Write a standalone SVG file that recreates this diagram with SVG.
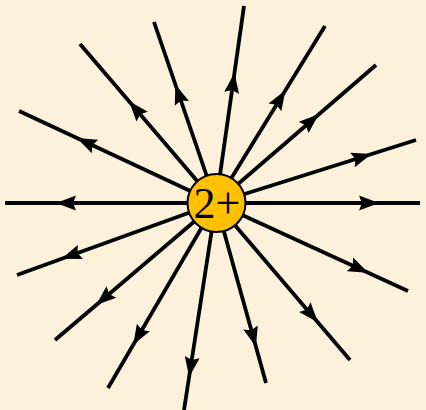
<svg xmlns="http://www.w3.org/2000/svg" width="426" height="410" viewBox="0 0 426 410">
<style>
.fl{fill:none;stroke:#000;stroke-width:3.8;marker-mid:url(#ah)}
.lbl{font-family:"Liberation Serif","Times New Roman",serif;font-size:44px;fill:#000}
</style>
<defs>
<marker id="ah" markerUnits="userSpaceOnUse" viewBox="-12 -9 24 18" refX="0" refY="0" markerWidth="24" markerHeight="18" orient="auto">
<path d="M9,0 L-11,-7.5 L-8,0 L-11,7.5 Z" fill="#000"/>
</marker>
</defs>
<rect width="426" height="410" fill="#FCF2DC"/>
<g id="connectors">
<path class="fl" d="M216,203 L65,203 L5,203"/>
<path class="fl" d="M216,203 L85,141.8 L19,111"/>
<path class="fl" d="M216,203 L135,108.2 L80,44"/>
<path class="fl" d="M216,203 L178.3,93 L154,22"/>
<path class="fl" d="M216,203 L233.2,82 L244,6"/>
<path class="fl" d="M216,203 L280.7,98 L325,26"/>
<path class="fl" d="M216,203 L312,120.2 L376,65"/>
<path class="fl" d="M216,203 L363,156.7 L416,140"/>
<path class="fl" d="M216,203 L370,203 L420,203"/>
<path class="fl" d="M216,203 L360,269 L408,291"/>
<path class="fl" d="M216,203 L312,315.5 L350,360"/>
<path class="fl" d="M216,203 L253.5,338 L266,383"/>
<path class="fl" d="M216,203 L190.5,368 L184,410"/>
<path class="fl" d="M216,203 L137.8,337 L108,388"/>
<path class="fl" d="M216,203 L103,299.2 L55,340"/>
<path class="fl" d="M216,203 L70,255.8 L17,275"/>
</g>
<g id="charge">
<circle cx="216.5" cy="203" r="29" fill="#FFC000" stroke="#000" stroke-width="2"/>
<text class="lbl" x="217" y="218" text-anchor="middle">2+</text>
</g>
</svg>
